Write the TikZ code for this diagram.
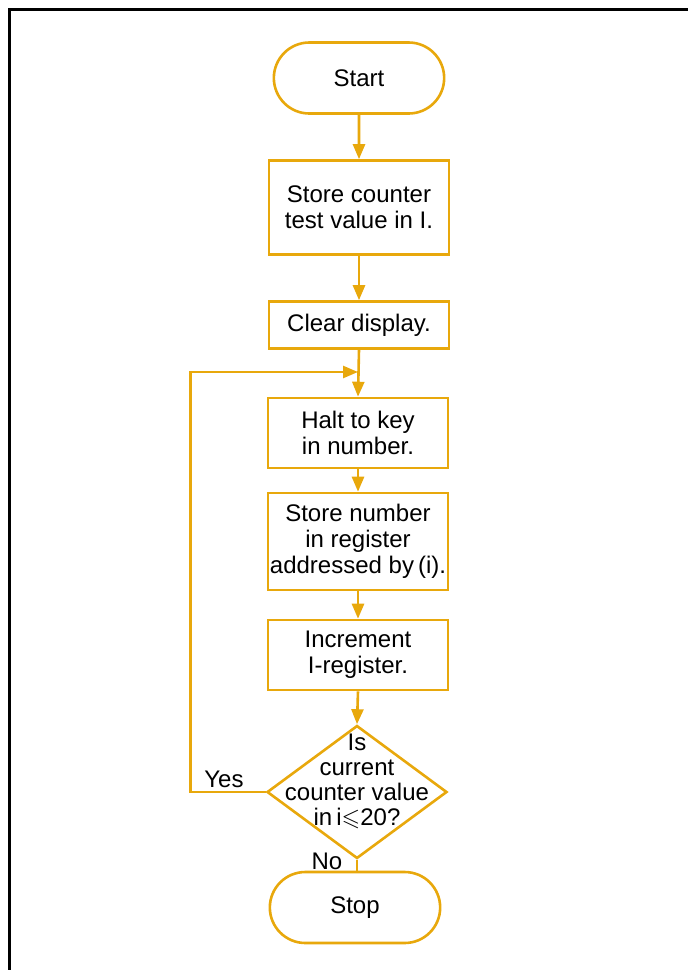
\documentclass[tikz,border=0pt]{standalone}
\usepackage{amssymb}
\usepackage{fontspec}
\setmainfont{Liberation Sans}
\usetikzlibrary{arrows.meta,positioning,shapes.geometric,shapes.misc}
\definecolor{flowgold}{RGB}{232,168,12}

\begin{document}
\begin{tikzpicture}[x=1pt, y=-1pt, line width=2.6pt,
        every node/.style={font=\fontsize{24}{26}\selectfont, align=center, text=black},
        terminal/.style={draw=flowgold, rounded rectangle, minimum width=177pt, minimum height=71pt},
        process/.style={draw=flowgold, rectangle, minimum width=180pt, inner sep=0pt},
        decision/.style={draw=flowgold, diamond, minimum width=180pt, minimum height=133pt, inner sep=0pt},
        flow/.style={draw=flowgold, -{Triangle[length=15pt, width=12pt]}}]
        \useasboundingbox (0,0) rectangle (688,970);

        % Moldura
        \draw[line width=3pt, black] (688,9) -- (9,9) -- (9,970);

        % Inicio
        \node[terminal] (start) at (359,78) {Start};

        % Passos do programa
        \node[process, minimum height=94pt] (storetest) at (359,207.5) {Store counter\\test value in I.};
        \node[process, minimum height=47pt] (clear) at (359,325) {Clear display.};
        \node[process, minimum height=70pt] (halt) at (358,433) {Halt to key\\in number.};
        \node[process, minimum height=97pt] (storenum) at (358,541.5) {Store number\\in register\\addressed by\,(i).};
        \node[process, minimum height=70pt] (incr) at (358,655) {Increment\\I-register.};

        % Teste do contador
        \node[decision] (test) at (357,792) {};
        \node[font=\fontsize{24}{25}\selectfont, inner sep=1pt] (testtext) at (357,781) {Is\\current\\counter value\\in\,i$\leqslant$20?};

        % Fim
        \node[terminal] (stop) at (355,907.5) {Stop};

        % Ligacoes
        \coordinate (join) at (358,372);
        \draw[flow] (start) -- (storetest);
        \draw[flow] (storetest) -- (clear);
        \draw[flow] (clear.south) -- (halt.north);
        \draw[flow] (halt) -- (storenum);
        \draw[flow] (storenum) -- (incr);
        \draw[flow] (incr.south) -- (test.north);
        \draw[draw=flowgold] (test.south) -- (test.south |- stop.north);
        \draw[flow] (test.west) -- ++(-75,0) |- (join);

        % Respostas
        \node (yes) at (224,779) {Yes};
        \node (no) at (327,861) {No};
\end{tikzpicture}
\end{document}
